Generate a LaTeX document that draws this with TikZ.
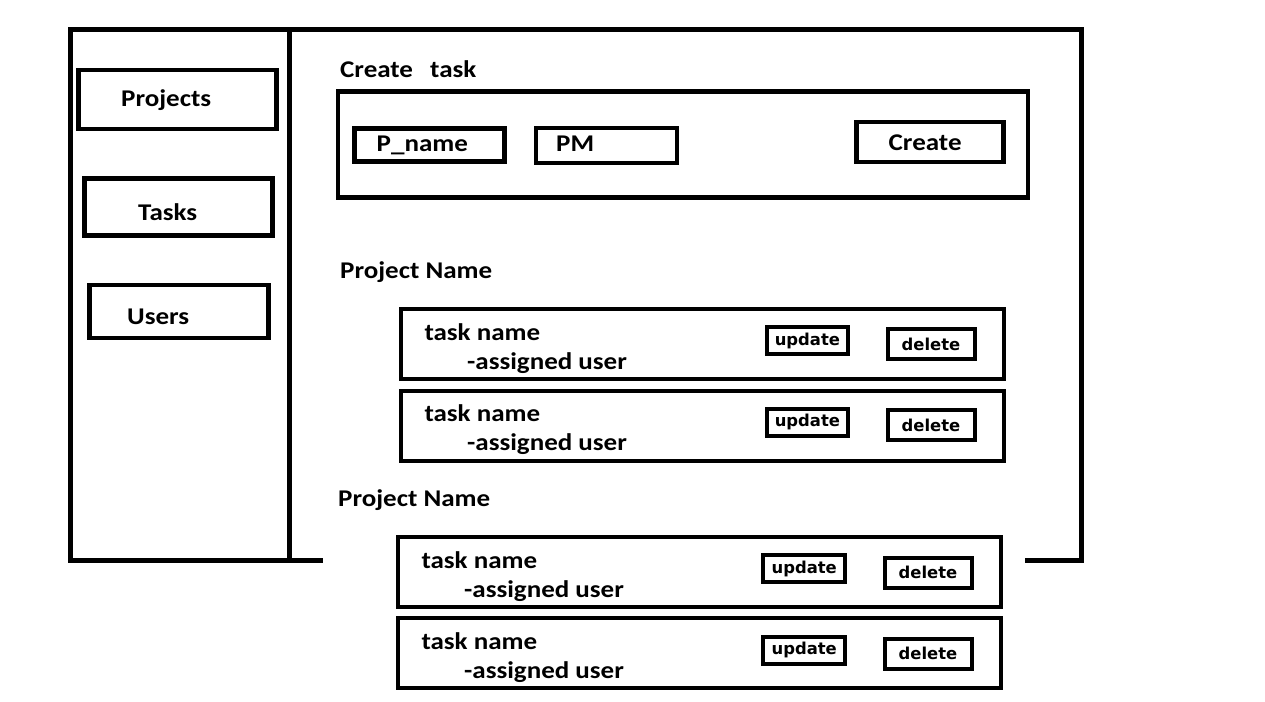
\documentclass[tikz,border=0pt]{standalone}
\usepackage{fontspec}
\setmainfont{Carlito}[FakeStretch=1.125]
\newfontfamily\btnfont{DejaVu Sans}
\tikzset{
  frame/.style = {line width=5pt, line join=miter},
  box/.style = {draw, line width=4.5pt, inner sep=0pt},
  taskbox/.style = {draw, line width=4pt, inner sep=0pt, minimum width=603pt, minimum height=70pt},
  btn/.style = {draw, line width=4pt, inner sep=0pt, font=\btnfont\bfseries\fontsize{16.4}{18}\selectfont},
  lbl/.style = {anchor=base west, inner sep=0pt, font=\bfseries\fontsize{24}{28}\selectfont},
}

\begin{document}
\begin{tikzpicture}[x=1pt, y=-1pt]
\useasboundingbox (0,0) rectangle (1265,701);
% outer frame and side bar
\coordinate (fa) at (322.7,560);
\coordinate (fb) at (70,560);
\coordinate (fc) at (70,30);
\coordinate (fd) at (1081,30);
\coordinate (fe) at (1081,560);
\coordinate (ff) at (1025,560);
\coordinate (sa) at (289,30);
\coordinate (sb) at (289,560);
\draw[frame] (fa) -- (fb) -- (fc) -- (fd) -- (fe) -- (ff);
\draw[frame] (sa) -- (sb);

% side bar
\node[box, minimum width=198pt, minimum height=59pt] (projects) at (177.5,99.4) {};
\node[box, minimum width=188pt, minimum height=57pt] (tasks) at (178.3,207) {};
\node[box, minimum width=179pt, minimum height=53pt] (users) at (179,311.7) {};
\node[lbl] (projectst) at (121,106) {Projects};
\node[lbl] (taskst) at (138,220) {Tasks};
\node[lbl] (userst) at (127,324) {Users};

% create task
\node[lbl] (createt) at (340,77.5) {Create\hspace{11pt} task};
\node[box, minimum width=690pt, minimum height=106pt] (form) at (682.8,144.6) {};
\node[box, minimum width=150pt, minimum height=33pt] (pname) at (429.3,145) {};
\node[box, minimum width=141pt, minimum height=35pt] (pm) at (606.4,145.4) {};
\node[box, minimum width=147pt, minimum height=40pt] (create) at (930,142) {};
\node[lbl] (pnamet) at (376.5,151.7) {P\_name};
\node[lbl] (pmt) at (556,151.7) {PM};
\node[lbl] (createb) at (888.5,150) {Create};

% first project
\node[lbl] (proj1) at (340,278.5) {Project Name};
\node[taskbox] (t1) at (702.8,344.4) {};
\node[taskbox] (t2) at (702.8,425.7) {};
\node[lbl] (t1a) at (424.3,340) {task name};
\node[lbl] (t1b) at (467,369) {-assigned user};
\node[lbl] (t2a) at (424.3,421) {task name};
\node[lbl] (t2b) at (467,450) {-assigned user};
\node[btn, minimum width=81pt, minimum height=27pt] (u1) at (807.4,340.7) {update};
\node[btn, minimum width=87pt, minimum height=30pt] (d1) at (931,344.3) {delete};
\node[btn, minimum width=81pt, minimum height=27pt] (u2) at (807.4,422) {update};
\node[btn, minimum width=87pt, minimum height=30pt] (d2) at (931,425.4) {delete};

% second project
\node[lbl] (proj2) at (338,506.5) {Project Name};
\node[taskbox] (t3) at (699.9,572.1) {};
\node[taskbox] (t4) at (699.9,653.4) {};
\node[lbl] (t3a) at (421.3,568) {task name};
\node[lbl] (t3b) at (464,597) {-assigned user};
\node[lbl] (t4a) at (421.3,649) {task name};
\node[lbl] (t4b) at (464,678) {-assigned user};
\node[btn, minimum width=82pt, minimum height=27pt] (u3) at (804.2,568.8) {update};
\node[btn, minimum width=87pt, minimum height=30pt] (d3) at (928,572.7) {delete};
\node[btn, minimum width=82pt, minimum height=27pt] (u4) at (804.2,650.2) {update};
\node[btn, minimum width=87pt, minimum height=30pt] (d4) at (928,653.7) {delete};
\end{tikzpicture}
\end{document}
